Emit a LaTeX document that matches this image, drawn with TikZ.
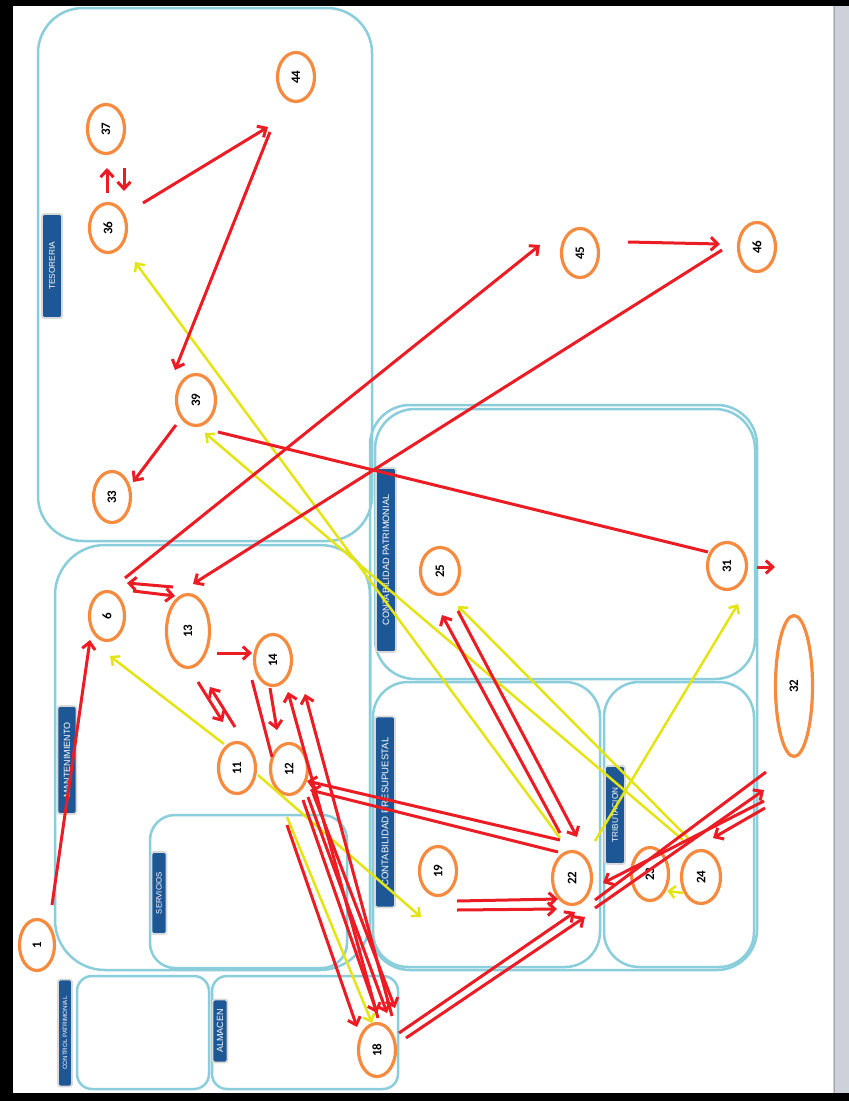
\documentclass[tikz,border=0pt]{standalone}
\usepackage{fontspec}
\setmainfont{Liberation Sans}
\newfontfamily\numfont{Carlito}
\usetikzlibrary{arrows.meta, shapes.geometric, calc}
\definecolor{cred}{HTML}{EC1C24}
\definecolor{cyellow}{HTML}{E4E414}
\definecolor{corange}{HTML}{F68B3F}
\definecolor{czone}{HTML}{8ACDDB}
\definecolor{ctag}{HTML}{1D5796}
\definecolor{cbar}{HTML}{CDD2DA}
\tikzset{
  zone/.style={draw=czone, line width=2.5pt, rounded corners=#1},
  zone/.default=40pt,
  tag/.style={fill=ctag, text=white, draw=black!15, line width=1.8pt, rounded corners=2.5pt, inner sep=0pt},
  proc/.style={ellipse, draw=corange, fill=white, line width=3.2pt, inner sep=0pt, font=\numfont\bfseries\fontsize{13}{13}\selectfont},
  redflow/.style={-{Straight Barb[length=7pt, width=13pt]}, draw=cred, line width=3pt},
  yelflow/.style={-{Straight Barb[length=6.5pt, width=12pt]}, draw=cyellow, line width=2.5pt},
}
\begin{document}
\begin{tikzpicture}[x=1pt, y=-1pt]
  \useasboundingbox (0,0) rectangle (849,1101);
  \fill[black] (0,0) rectangle (849,1101);
  \fill[white] (13,6) rectangle (833,1093);
  \fill[cbar] (833,6) rectangle (849,1093);
  \draw[black!35, line width=1pt] (834,6) -- (834,1093);
  \draw[zone=45pt] (38,8) rectangle (372,541);
  \draw[zone=50pt] (55,545) rectangle (370,970);
  \draw[zone=25pt] (150,815) rectangle (347,968);
  \draw[zone=15pt] (77,976) rectangle (209,1089);
  \draw[zone=15pt] (212,976) rectangle (398,1089);
  \draw[zone=40pt] (370,405) rectangle (757,970);
  \draw[zone=40pt] (375,409) rectangle (755,679);
  \draw[zone=35pt] (373,682) rectangle (600,967);
  \draw[zone=35pt] (604,682) rectangle (754,967);
  \foreach \n/\t/\x/\y/\w/\h/\s in {tes/TESORERIA/52/266/20pt/104pt/8.3, man/MANTENIMIENTO/67/760/19pt/108pt/9, ser/SERVICIOS/159/893/15pt/82pt/7.8, alm/ALMACEN/220/1031/15pt/63pt/9, ctl/CONTROL PATRIMONIAL/65/1033/14pt/107pt/6.2, cpa/CONTABILIDAD PATRIMONIAL/386/560/20pt/184pt/9.2, cpr/CONTABILIDAD PRESUPUESTAL/385/812/20pt/191pt/9.6, tri/TRIBUTACION/615/815/20pt/98pt/8.2} {
    \node[tag, minimum width=\w, minimum height=\h] (\n) at (\x,\y) {\fontsize{\s}{\s}\selectfont\rotatebox{90}{\t}};
  }
  \foreach \n/\x/\y/\w/\h in {1/37/945/35/51, 6/107/616/35/49, 13/188/631/43/73, 14/273/660/37/51, 11/237/768/37/51, 12/289/769/37/51, 18/377/1050/37/53, 19/438/871/37/49, 22/572/878/39/53, 23/650/874/37/53, 24/701/877/39/53, 25/440/571/39/47, 31/727/566/39/47, 32/794/686/37/141, 33/112/497/37/51, 39/196/400/39/51, 36/108/228/37/49, 37/106/129/37/49, 44/296/77/37/49, 45/580/253/37/49, 46/757/247/37/49} {
    \node[proc, minimum width=\w pt, minimum height=\h pt] (n\n) at (\x,\y) {\rotatebox{90}{\n}};
  }
  \coordinate (e19) at (421,917);
  \coordinate (e31) at (775,567);
  \coordinate (e32a) at (766,772);
  \coordinate (e32b) at (764,790);
  \coordinate (e32c) at (764,801);
  \coordinate (e32d) at (765,808);
  \draw[yelflow] ($(n11)+(-13,-24)$) -- ($(n6)+(3,40)$);
  \draw[yelflow] ($(n11)+(21,7)$) -- (e19);
  \draw[yelflow] ($(n12)+(-2,48)$) -- ($(n18)+(-5,-27)$);
  \draw[yelflow] ($(n22)+(-12,-40)$) -- ($(n36)+(27,34)$);
  \draw[yelflow] ($(n24)+(-18,-37)$) -- ($(n39)+(9,33)$);
  \draw[yelflow] ($(n24)+(-13,-39)$) -- ($(n25)+(18,35)$);
  \draw[yelflow] ($(n22)+(23,-37)$) -- ($(n31)+(11,38)$);
  \draw[yelflow] ($(n24)+(-18,16)$) -- ($(n23)+(17,17)$);
  \draw[redflow] ($(n1)+(15,-40)$) -- ($(n6)+(-17,24)$);
  \draw[redflow] ($(n13)+(-15,-44)$) -- ($(n6)+(20,-33)$);
  \draw[redflow] ($(n6)+(26,-25)$) -- ($(n13)+(-13,-35)$);
  \draw[redflow] ($(n6)+(18,-38)$) -- ($(n45)+(-40,-8)$);
  \draw[redflow] ($(n46)+(-35,3)$) -- ($(n13)+(5,-47)$);
  \draw[redflow] ($(n45)+(48,-11)$) -- ($(n46)+(-37,-3)$);
  \draw[redflow] ($(n36)+(35,-25)$) -- ($(n44)+(-28,50)$);
  \draw[redflow] ($(n44)+(-26,55)$) -- ($(n39)+(-21,-30)$);
  \draw[redflow] ($(n39)+(-20,25)$) -- ($(n33)+(21,-15)$);
  \draw[redflow] ($(n36)+(-1,-35)$) -- ($(n37)+(1,39)$);
  \draw[redflow] ($(n37)+(18,39)$) -- ($(n36)+(16,-37)$);
  \draw[redflow, -] ($(n39)+(22,32)$) -- ($(n31)+(-19,-14)$);
  \draw[redflow] ($(n31)+(30,1)$) -- (e31);
  \draw[redflow] ($(n13)+(29,22)$) -- ($(n14)+(-21,-7)$);
  \draw[redflow] ($(n13)+(10,51)$) -- ($(n11)+(-14,-46)$);
  \draw[redflow] ($(n11)+(-2,-41)$) -- ($(n13)+(22,56)$);
  \draw[redflow] ($(n14)+(-3,28)$) -- ($(n12)+(-12,-39)$);
  \draw[redflow, -] ($(n12)+(-17,-12)$) -- ($(n14)+(-21,20)$);
  \draw[redflow] ($(n18)+(1,-32)$) -- ($(n14)+(15,32)$);
  \draw[redflow] ($(n18)+(15,-34)$) -- ($(n14)+(32,34)$);
  \draw[redflow] ($(n12)+(14,31)$) -- ($(n18)+(0,-37)$);
  \draw[redflow] ($(n12)+(19,28)$) -- ($(n18)+(10,-37)$);
  \draw[redflow] ($(n12)+(24,24)$) -- ($(n18)+(18,-42)$);
  \draw[redflow] ($(n12)+(-2,56)$) -- ($(n18)+(-20,-23)$);
  \draw[redflow] ($(n22)+(-12,-38)$) -- ($(n12)+(18,12)$);
  \draw[redflow] ($(n22)+(-14,-26)$) -- ($(n12)+(21,21)$);
  \draw[redflow] ($(n22)+(-12,-45)$) -- ($(n25)+(2,44)$);
  \draw[redflow] ($(n25)+(18,40)$) -- ($(n22)+(5,-41)$);
  \draw[redflow] ($(n19)+(19,30)$) -- ($(n22)+(-14,21)$);
  \draw[redflow] ($(n19)+(19,39)$) -- ($(n22)+(-15,31)$);
  \draw[redflow] ($(n18)+(22,-17)$) -- ($(n22)+(3,34)$);
  \draw[redflow] ($(n18)+(29,-12)$) -- ($(n22)+(13,39)$);
  \draw[redflow, -] ($(n22)+(23,22)$) -- (e32a);
  \draw[redflow] ($(n22)+(23,30)$) -- (e32b);
  \draw[redflow] (e32c) -- ($(n22)+(31,5)$);
  \draw[redflow] (e32d) -- ($(n24)+(12,-39)$);
\end{tikzpicture}
\end{document}
